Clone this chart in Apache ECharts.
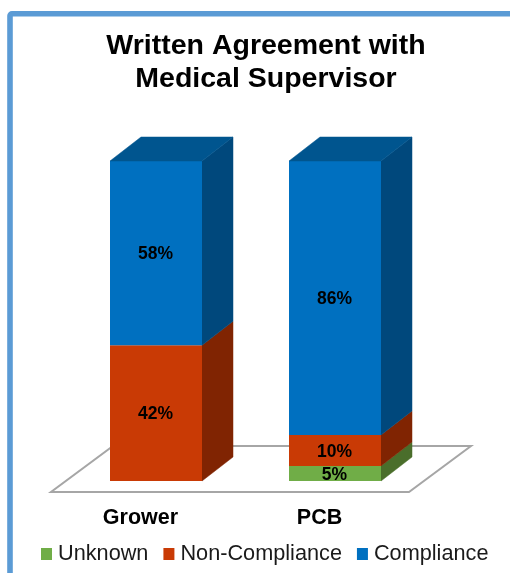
<!DOCTYPE html>
<html>
<head>
<meta charset="utf-8">
<style>html,body{margin:0;padding:0;background:#fff}#c{width:510px;height:573px}</style>
<script src="https://cdn.jsdelivr.net/npm/echarts@6/dist/echarts.min.js"></script>
</head>
<body>
<div id="c"></div>
<script>
const categories = ['Grower', 'PCB'];
const unknownValues = [0, 4.7];
const nonComplianceValues = [42.4, 9.7];
const complianceValues = [57.6, 85.6];
const chartTitle = 'Written Agreement with\nMedical Supervisor';

const FONT = '"Liberation Sans", Arial, sans-serif';
const DX = 31, DY = 24;            // bar depth
const FLOOR_X = 15.5, FLOOR_Y = 11; // bar inset on the floor
const BAR = 92 / 179;

const defs = [
  { name: 'Unknown', values: unknownValues, front: '#70AD47', side: '#4A6E2B', top: '#557F36' },
  { name: 'Non-Compliance', values: nonComplianceValues, front: '#C93A05', side: '#802402', top: '#972B03' },
  { name: 'Compliance', values: complianceValues, front: '#0070C0', side: '#00487C', top: '#00558F' }
];

function barSeries(def, k) {
  const below = categories.map((_, i) => defs.slice(0, k).reduce((s, d) => s + d.values[i], 0));
  return {
    name: def.name,
    type: 'custom',
    coordinateSystem: 'cartesian2d',
    itemStyle: { color: def.front },
    z: 3 + k,
    data: def.values.map((v, i) => [i, below[i], below[i] + v, v]),
    renderItem(params, api) {
      const v = api.value(3);
      if (!v) return { type: 'group', children: [] };
      const i = api.value(0);
      const c0 = api.coord([i, api.value(1)]);
      const c1 = api.coord([i, api.value(2)]);
      const w = api.size([1, 0])[0] * BAR;
      const xl = c0[0] + FLOOR_X - w / 2, xr = xl + w;
      const y0 = c0[1], y1 = c1[1];
      const kids = [
        { type: 'polygon', shape: { points: [[xr, y0], [xr + DX, y0 - DY], [xr + DX, y1 - DY], [xr, y1]] }, style: { fill: def.side, stroke: def.side, lineWidth: 0.5 } },
        { type: 'rect', shape: { x: xl, y: y1, width: w, height: y0 - y1 }, style: { fill: def.front } }
      ];
      if (k === defs.length - 1) {
        kids.push({ type: 'polygon', shape: { points: [[xl, y1], [xl + DX, y1 - DY], [xr + DX, y1 - DY], [xr, y1]] }, style: { fill: def.top, stroke: def.top, lineWidth: 0.5 } });
      }
      kids.push({
        type: 'text',
        z2: 10,
        style: {
          x: (xl + xr) / 2 - 0.5, y: (y0 + y1) / 2 + 1.5,
          text: Math.round(v) + '%',
          align: 'center', verticalAlign: 'middle',
          font: 'bold 17.5px ' + FONT, fill: '#000'
        }
      });
      return { type: 'group', children: kids };
    }
  };
}

const floorSeries = {
  type: 'custom',
  name: 'floor',
  z: 1,
  silent: true,
  data: [[0]],
  renderItem(params, api) {
    const a = api.coord([0, 0]);
    const bw = api.size([1, 0])[0];
    const xl = a[0] - bw / 2, xr = xl + bw * categories.length;
    const y = a[1] + FLOOR_Y;
    const ddx = FLOOR_X * 2 + DX, ddy = FLOOR_Y * 2 + DY;
    return {
      type: 'polygon',
      shape: { points: [[xl, y], [xr, y], [xr + ddx, y - ddy], [xl + ddx, y - ddy]] },
      style: { fill: '#fff', stroke: '#A6A6A6', lineWidth: 2 }
    };
  }
};

const chart = echarts.init(document.getElementById('c'), null, { renderer: 'canvas', width: 510, height: 573 });
chart.setOption({
  animation: false,
  backgroundColor: '#fff',
  title: {
    text: chartTitle,
    left: 261, top: 25, textAlign: 'center',
    textStyle: { fontFamily: FONT, fontWeight: 'bold', fontSize: 28.5, lineHeight: 33, color: '#000' }
  },
  grid: { left: 51, width: 358, top: 161, height: 320 },
  xAxis: {
    type: 'category', data: categories,
    axisLine: { show: false }, axisTick: { show: false }, splitLine: { show: false },
    axisLabel: { margin: 26, color: '#000', fontFamily: FONT, fontWeight: 'bold', fontSize: 21.5 }
  },
  yAxis: { type: 'value', min: 0, max: 100, show: false },
  legend: {
    data: defs.map(d => d.name),
    left: 36, top: 538,
    icon: 'rect', itemWidth: 11, itemHeight: 12, itemGap: 15,
    textStyle: { fontFamily: FONT, fontSize: 21.7, color: '#1a1a1a', padding: [0, 0, 0, 1] }
  },
  graphic: [{
    type: 'rect', silent: true, z: 100,
    shape: { x: 10, y: 13.8, width: 620, height: 700, r: 2 },
    style: { fill: 'none', stroke: '#5B9BD5', lineWidth: 5.6 }
  }],
  series: [floorSeries].concat(defs.map(barSeries))
});
</script>
</body>
</html>
